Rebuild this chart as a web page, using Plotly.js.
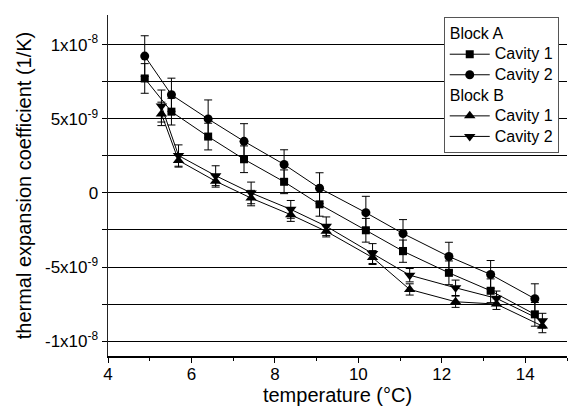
<!DOCTYPE html>
<html>
<head>
<meta charset="utf-8">
<script src="https://cdn.plot.ly/plotly-3.0.1.min.js"></script>
<style>
  html, body { margin: 0; padding: 0; background: #fff; }
  #chart { width: 568px; height: 410px; }
</style>
</head>
<body>
<div id="chart"></div>
<script>
// Temperatures (°C) at which each block was measured
const tempBlockA = [4.88, 5.52, 6.40, 7.26, 8.22, 9.07, 10.18, 11.07, 12.17, 13.17, 14.23];
const tempBlockB = [5.28, 5.69, 6.58, 7.43, 8.38, 9.23, 10.34, 11.23, 12.33, 13.31, 14.41];

// Thermal expansion coefficient (1/K) and its uncertainty
const blockACavity1 = [7.72e-9, 5.48e-9, 3.80e-9, 2.27e-9, 0.75e-9, -0.77e-9, -2.52e-9, -3.93e-9, -5.39e-9, -6.60e-9, -8.19e-9];
const blockACavity1Err = [1.0e-9, 0.9e-9, 0.9e-9, 0.9e-9, 0.8e-9, 0.8e-9, 0.8e-9, 0.75e-9, 0.8e-9, 0.8e-9, 0.8e-9];

const blockACavity2 = [9.23e-9, 6.62e-9, 4.99e-9, 3.48e-9, 1.92e-9, 0.32e-9, -1.33e-9, -2.74e-9, -4.29e-9, -5.50e-9, -7.14e-9];
const blockACavity2Err = [1.37e-9, 1.12e-9, 1.28e-9, 1.19e-9, 0.99e-9, 1.04e-9, 1.10e-9, 0.94e-9, 0.96e-9, 0.94e-9, 1.01e-9];

const blockBCavity1 = [5.33e-9, 2.19e-9, 0.79e-9, -0.35e-9, -1.47e-9, -2.59e-9, -4.36e-9, -6.51e-9, -7.34e-9, -7.50e-9, -8.98e-9];
const blockBCavity1Err = [0.79e-9, 0.45e-9, 0.40e-9, 0.52e-9, 0.45e-9, 0.38e-9, 0.47e-9, 0.38e-9, 0.38e-9, 0.36e-9, 0.45e-9];

const blockBCavity2 = [5.86e-9, 2.52e-9, 1.16e-9, 0.0, -1.11e-9, -2.25e-9, -4.09e-9, -5.55e-9, -6.40e-9, -7.11e-9, -8.62e-9];
const blockBCavity2Err = [1.08e-9, 0.72e-9, 0.67e-9, 0.73e-9, 0.60e-9, 0.63e-9, 0.67e-9, 0.45e-9, 0.52e-9, 0.49e-9, 0.50e-9];

// Axis ticks
const xTickVals = [4, 6, 8, 10, 12, 14];
const yTickVals = [-1e-8, -5e-9, 0, 5e-9, 1e-8];
const yTickText = ['-1x10<sup>-8</sup>', '-5x10<sup>-9</sup>', '0', '5x10<sup>-9</sup>', '1x10<sup>-8</sup>'];

const FONT = 'Liberation Sans, Arial, sans-serif';

// Legend entries are set at 16px inside a tighter 13.5px line box,
// so the rows sit close together.
function legendText(s) {
  return '<span style="font-size:16px">' + s + '</span>';
}

function series(name, group, groupTitle, x, y, err, symbol, size) {
  return {
    type: 'scatter',
    mode: 'lines+markers',
    name: legendText(name),
    legendgroup: group,
    legendgrouptitle: { text: legendText(groupTitle), font: { family: FONT, size: 13.5, color: '#000' } },
    x: x,
    y: y,
    error_y: { type: 'data', array: err, visible: true, color: '#000', thickness: 1, width: 4 },
    line: { color: '#000', width: 1 },
    marker: { symbol: symbol, size: size, color: '#000' },
    hoverinfo: 'skip'
  };
}

const traces = [
  series('Cavity 1', 'A', 'Block A', tempBlockA, blockACavity1, blockACavity1Err, 'square', 8),
  series('Cavity 2', 'A', 'Block A', tempBlockA, blockACavity2, blockACavity2Err, 'circle', 9),
  series('Cavity 1', 'B', 'Block B', tempBlockB, blockBCavity1, blockBCavity1Err, 'triangle-up', 10),
  series('Cavity 2', 'B', 'Block B', tempBlockB, blockBCavity2, blockBCavity2Err, 'triangle-down', 10)
];

const layout = {
  width: 568,
  height: 410,
  margin: { l: 108, r: 1, t: 15, b: 54 },
  paper_bgcolor: '#fff',
  plot_bgcolor: '#fff',
  font: { family: FONT, size: 17, color: '#000' },
  showlegend: true,
  legend: {
    x: 0.982, xanchor: 'right',
    y: 0.993, yanchor: 'top',
    bgcolor: '#fff',
    bordercolor: '#555',
    borderwidth: 1,
    traceorder: 'grouped',
    tracegroupgap: 0,
    itemwidth: 40,
    font: { family: FONT, size: 13.5, color: '#000' }
  },
  xaxis: {
    range: [4, 15],
    tickvals: xTickVals,
    ticks: 'outside',
    ticklen: 5,
    tickwidth: 1,
    tickcolor: '#000',
    ticklabelstandoff: -3,
    minor: { dtick: 1, tick0: 4, ticks: 'outside', ticklen: 3, tickcolor: '#000', showgrid: false },
    showline: true,
    linecolor: '#000',
    linewidth: 1.5,
    showgrid: false,
    zeroline: false,
    tickfont: { family: FONT, size: 17, color: '#000' },
    title: { text: 'temperature (°C)', font: { family: FONT, size: 20, color: '#000' }, standoff: 2 }
  },
  xaxis2: {
    overlaying: 'x',
    side: 'top',
    range: [4, 15],
    dtick: 1,
    tick0: 4,
    ticks: 'inside',
    ticklen: 2,
    tickcolor: '#000',
    showticklabels: false,
    showline: true,
    linecolor: '#000',
    linewidth: 1.5,
    showgrid: false,
    zeroline: false
  },
  yaxis: {
    range: [-1.1e-8, 1.2e-8],
    tickvals: yTickVals,
    ticktext: yTickText,
    ticks: 'outside',
    ticklen: 5,
    tickwidth: 1,
    tickcolor: '#000',
    minor: { dtick: 2.5e-9, tick0: 0, ticks: 'outside', ticklen: 5, tickcolor: '#000', showgrid: true, gridcolor: '#000', gridwidth: 1 },
    showline: true,
    linecolor: '#222',
    linewidth: 1.5,
    showgrid: true,
    gridcolor: '#000',
    gridwidth: 1,
    zeroline: false,
    tickfont: { family: FONT, size: 17, color: '#000' },
    title: { text: 'thermal expansion coefficient (1/K)', font: { family: FONT, size: 20, color: '#000' }, standoff: 8 }
  }
};

Plotly.newPlot('chart', traces, layout, { staticPlot: true, displayModeBar: false });
</script>
</body>
</html>
